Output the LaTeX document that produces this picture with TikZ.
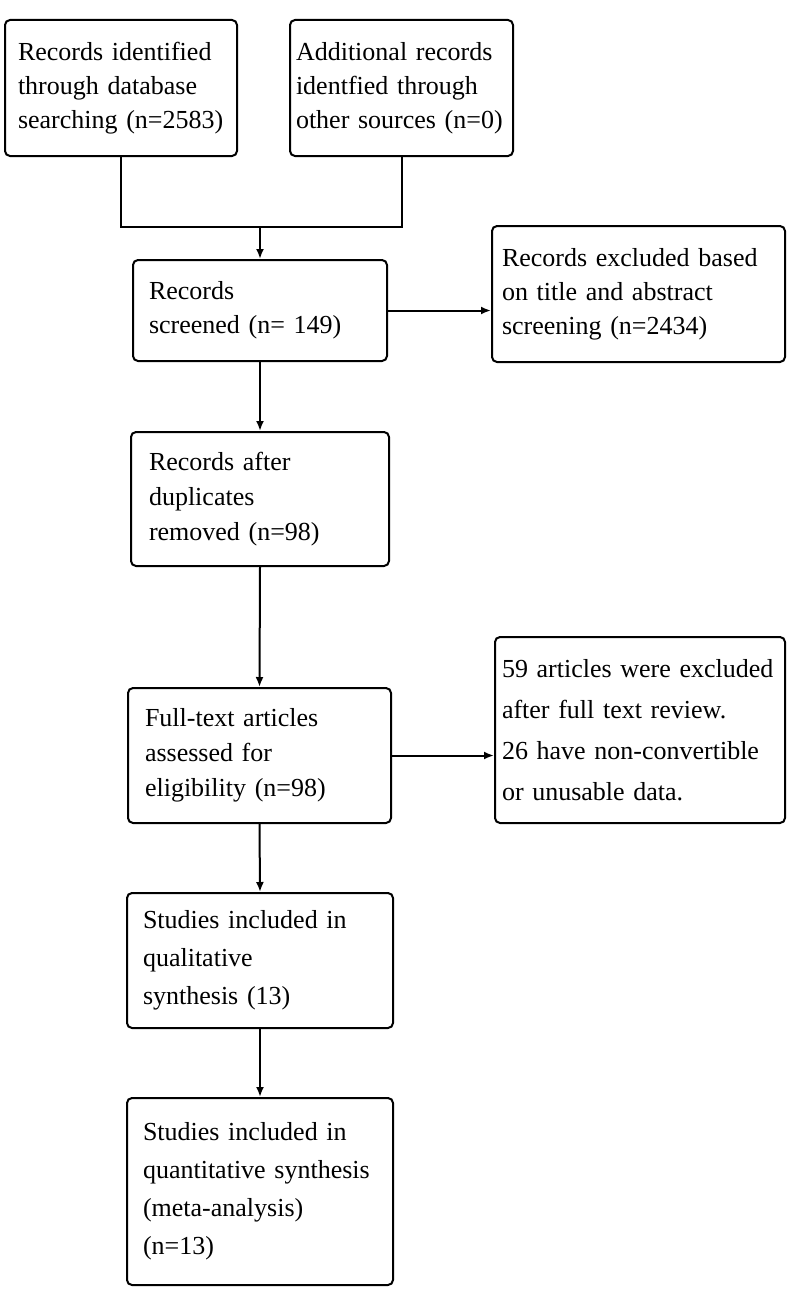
\documentclass[tikz,border=0pt]{standalone}
\usepackage{fontspec}
\setmainfont{Liberation Serif}[WordSpace=0.7]
\usetikzlibrary{arrows.meta}
\begin{document}
\begin{tikzpicture}[
    x=1pt, y=-1pt,
    box/.style = {shape=rectangle, draw=black, line width=2pt, rounded corners=5pt, align=left, inner xsep=0pt, inner ysep=0pt, font=\fontsize{26}{35}\selectfont},
    link/.style = {draw=black, line width=2pt},
    arr/.style = {link, -{Latex[length=10pt, width=8pt]}}
    ]
    \useasboundingbox (0,0) rectangle (794,1298);
    \node[box, minimum width=232, minimum height=136, text width=206pt, font=\fontsize{26}{34}\selectfont] (ident) at (121,88) {Records identified\\through database\\searching (n=2583)};
    \node[box, minimum width=223, minimum height=136, text width=211pt, font=\fontsize{26}{34}\selectfont] (other) at (401.5,88) {Additional records\\identfied through\\other sources (n=0)};
    \coordinate (join) at (260,227);
    \node[box, minimum width=254, minimum height=101, text width=222pt, font=\fontsize{26}{34}\selectfont] (screen) at (260,310.5) {Records\\screened (n= 149)};
    \node[box, minimum width=293, minimum height=136, text width=273pt, font=\fontsize{26}{34}\selectfont] (excl) at (638.5,294) {Records excluded based\\on title and abstract\\screening (n=2434)};
    \node[box, minimum width=258, minimum height=134, text width=222pt] (dedup) at (260,499) {Records after\\duplicates\\removed (n=98)};
    \node[box, minimum width=263, minimum height=135, text width=229pt] (full) at (259.5,755.5) {Full-text articles\\assessed for\\eligibility (n=98)};
    \node[box, minimum width=290, minimum height=186, text width=276pt, font=\fontsize{26}{41}\selectfont] (fullex) at (640,730) {59 articles were excluded\\after full text review.\\26 have non-convertible\\or unusable data.};
    \node[box, minimum width=266, minimum height=135, text width=234pt, font=\fontsize{26}{38}\selectfont] (qual) at (260,960.5) {Studies included in\\qualitative\\synthesis (13)};
    \node[box, minimum width=266, minimum height=187, text width=234pt, font=\fontsize{26}{38}\selectfont] (quant) at (260,1191.5) {Studies included in\\quantitative synthesis\\(meta-analysis)\\(n=13)};
    \draw[link] (ident.south) |- (join) -| (other.south);
    \draw[arr] (join) -- (screen.north);
    \draw[arr] (screen.east) -- (screen.east -| excl.west);
    \draw[arr] (screen.south) -- (dedup.north);
    \draw[arr] (dedup.south) -- (full.north);
    \draw[arr] (full.east) -- (full.east -| fullex.west);
    \draw[arr] (full.south) -- (qual.north);
    \draw[arr] (qual.south) -- (quant.north);
\end{tikzpicture}
\end{document}
